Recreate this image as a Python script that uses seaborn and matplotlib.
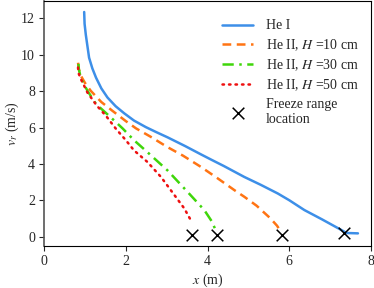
import numpy as np
import pandas as pd
import matplotlib
matplotlib.use("Agg")
import matplotlib.pyplot as plt
import seaborn as sns

# He I
x_he1 = [0.98, 0.99, 1.02, 1.1, 1.18, 1.27, 1.4, 1.55, 1.75, 1.96, 2.2, 2.49, 2.75, 3.02, 3.45, 3.84, 4.1, 4.4, 4.9, 5.3, 5.72, 6.0, 6.37, 6.8, 7.27, 7.4, 7.68]
y_he1 = [12.35, 11.7, 11.1, 9.84, 9.25, 8.74, 8.15, 7.65, 7.17, 6.78, 6.38, 6.02, 5.74, 5.46, 4.98, 4.52, 4.22, 3.88, 3.28, 2.85, 2.37, 2.0, 1.46, 0.95, 0.37, 0.2, 0.18]

# He II, H = 10 cm
x_h10 = [0.83, 0.85, 0.9, 1.0, 1.14, 1.4, 1.67, 2.0, 2.25, 2.6, 3.02, 3.4, 3.84, 4.25, 4.66, 4.9, 5.2, 5.54, 5.7, 5.8]
y_h10 = [9.56, 9.2, 8.84, 8.45, 8.02, 7.4, 6.92, 6.35, 5.95, 5.5, 4.92, 4.45, 3.83, 3.2, 2.55, 2.19, 1.7, 1.0, 0.6, 0.25]

# He II, H = 30 cm
x_h30 = [0.84, 0.85, 0.9, 1.06, 1.27, 1.63, 1.92, 2.2, 2.53, 3.02, 3.51, 3.92, 4.1, 4.19]
y_h30 = [9.5, 9.2, 8.7, 8.02, 7.29, 6.56, 5.95, 5.3, 4.64, 3.64, 2.46, 1.46, 0.85, 0.4]

# He II, H = 50 cm
x_h50 = [0.83, 0.84, 0.9, 1.06, 1.29, 1.51, 1.76, 2.0, 2.2, 2.53, 2.86, 3.19, 3.43, 3.61]
y_h50 = [9.3, 9.0, 8.66, 7.92, 7.2, 6.65, 5.92, 5.3, 4.74, 4.1, 3.28, 2.28, 1.55, 0.82]

# freeze range location
x_frz = [3.63, 4.24, 5.81, 7.34]
y_frz = [0.1, 0.1, 0.1, 0.22]

sns.set_style("ticks")
plt.rcParams["font.family"] = ["Liberation Serif", "DejaVu Serif"]
plt.rcParams["mathtext.fontset"] = "stix"
plt.rcParams["font.size"] = 10

fig, ax = plt.subplots(figsize=(3.74, 2.88), dpi=100)
fig.subplots_adjust(left=0.118, right=0.992, bottom=0.146, top=0.997)

sns.lineplot(x=x_he1, y=y_he1, ax=ax, color="#3d8fe8", lw=1.8, sort=False, label="He I")
sns.lineplot(x=x_h10, y=y_h10, ax=ax, color="#ff7413", lw=1.8, sort=False,
             label="He II, $H$ =10 cm").lines[-1].set_dashes([3.5, 2.2])
sns.lineplot(x=x_h30, y=y_h30, ax=ax, color="#3fd60a", lw=1.8, sort=False,
             label="He II, $H$ =30 cm").lines[-1].set_dashes([4.5, 2.2, 1, 2.2])
l50 = sns.lineplot(x=x_h50, y=y_h50, ax=ax, color="#ee1010", lw=1.8, sort=False,
                   label="He II, $H$ =50 cm").lines[-1]
l50.set_dashes([0.6, 2.0])
l50.set_dash_capstyle("round")
sns.scatterplot(x=x_frz, y=y_frz, ax=ax, marker="x", s=70, color="black",
                linewidth=1.1, label="Freeze range\nlocation", zorder=5)

ax.set_xlim(0, 8)
ax.set_xticks([0, 2, 4, 6, 8])
ax.set_yticks([0, 2, 4, 6, 8, 10, 12])
ax.set_xlabel("$x$ (m)", labelpad=3)
ax.set_ylabel("$v_r$ (m/s)")
ax.yaxis.set_label_coords(-0.072, 0.5)
ax.tick_params(labelsize=10, length=3.5, width=0.8, pad=3)
for s in ax.spines.values():
    s.set_visible(True)
    s.set_linewidth(0.8)
    s.set_color("black")
ax.spines["left"].set_color("#555555")
ax.spines["left"].set_linewidth(1.2)

ax.legend(loc="upper right", bbox_to_anchor=(1.0, 0.975), frameon=False,
          fontsize=10, handlelength=2.2, labelspacing=0.33, borderaxespad=0.5,
          handletextpad=0.9)

fig.savefig("out.png", dpi=100)
